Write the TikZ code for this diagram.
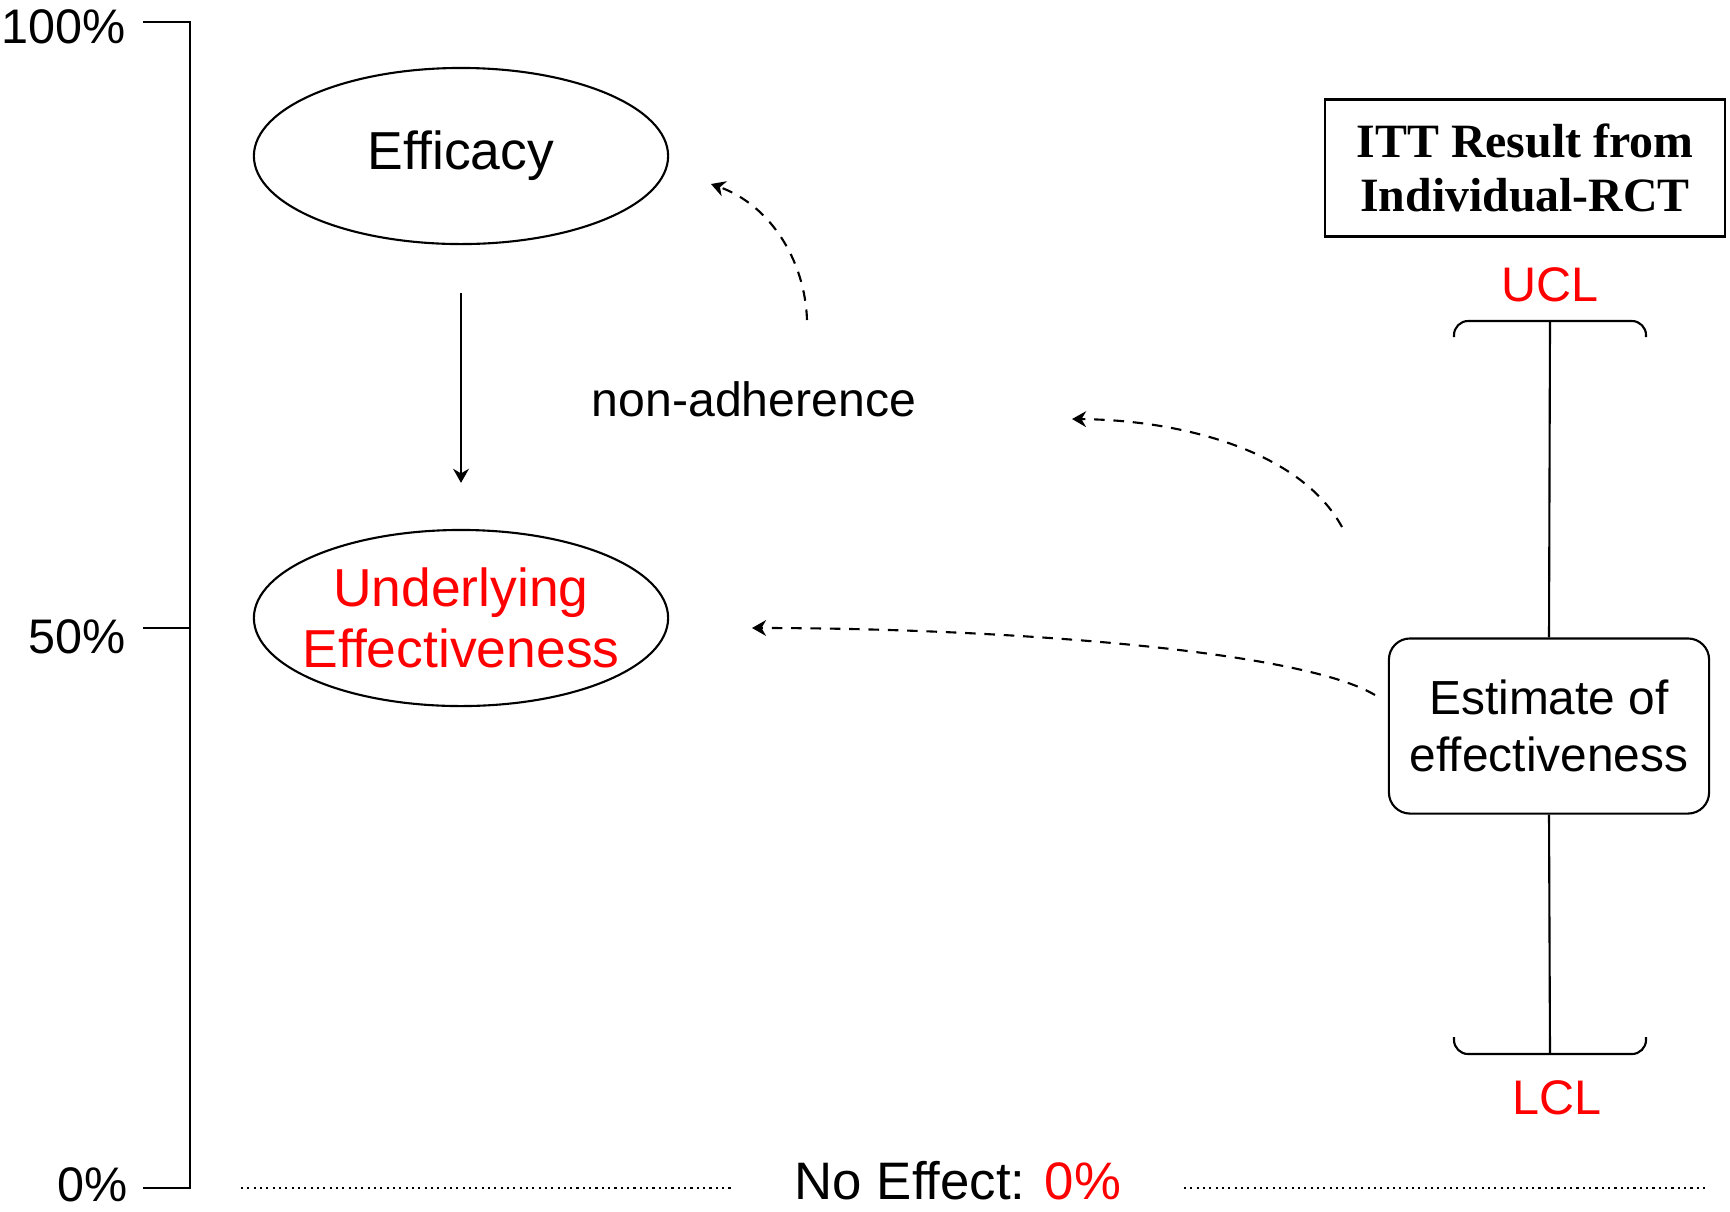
\documentclass[tikz,border=0pt]{standalone}
\usepackage{fontspec}
\setmainfont{Liberation Sans}
\newfontfamily\timesfont{Liberation Serif}
\usetikzlibrary{arrows.meta,positioning,shapes.geometric}

\begin{document}
\begin{tikzpicture}[
  x=0.01cm, y=-0.01cm,
  line width=0.6pt,
  lbl/.style={font=\fontsize{13.8}{15}\selectfont, inner sep=0pt},
  oval/.style={
    draw, ellipse, minimum width=4.14cm, minimum height=1.76cm,
    inner xsep=-4pt, inner ysep=0pt,
    align=center, font=\fontsize{15.2}{17.4}\selectfont
  },
  est/.style={
    draw, rounded corners=6pt, align=center, minimum width=3.2cm,
    minimum height=1.75cm, inner sep=2pt, font=\fontsize{13.6}{16.4}\selectfont
  },
  itt/.style={
    draw, align=center, minimum width=4.0cm, minimum height=1.37cm,
    inner sep=2pt, font=\timesfont\bfseries\fontsize{13.6}{15.6}\selectfont
  },
  arr/.style={-{Stealth[length=4pt, width=4.5pt]}},
  dasharr/.style={arr, dashed, dash pattern=on 3pt off 2.5pt},
  dots/.style={dash pattern=on 0.6pt off 1.2pt},
  red/.style={text=red},
]
\useasboundingbox (0,0) rectangle (1730,1211);

% =========================== axis ========================================
\draw (143,22) -- (190,22) -- (190,1188) -- (143,1188);
\draw (143,628) -- (190,628);
\node[lbl, anchor=east] (p100) at (127,27) {100\%};
\node[lbl, anchor=east] (p50)  at (127,637) {50\%};
\node[lbl, anchor=east] (p0)   at (129,1185) {0\%};

% =========================== left: the two ovals =========================
\node[oval] (eff) at (461,156) {Efficacy};
\node[oval, text=red] (und) at (461,618) {Underlying\\Effectiveness};
\draw[arr] ([yshift=-0.48cm]eff.south) -- ([yshift=0.46cm]und.north);

\node[font=\fontsize{13.7}{16}\selectfont] (nonad) at (754,399) {non-adherence};

% =========================== right: ITT interval =========================
\node[itt] (ittbox) at (1525,168) {ITT Result from\\Individual-RCT};
\node[lbl, red] (ucl) at (1550,285) {UCL};
\node[lbl, red] (lcl) at (1557,1098) {LCL};
\node[est] (estbox) at (1549,726) {Estimate of\\effectiveness};

\coordinate (utop) at (1550,321);
\coordinate (lbot) at (1550,1054);
\draw[rounded corners=4pt] (1454,337) |- (utop) -| (1646,337);
\draw[rounded corners=4pt] (1454,1037) |- (lbot) -| (1646,1037);
\draw (utop) -- (estbox.north);
\draw (estbox.south) -- (lbot);

% =========================== dashed arrows ===============================
\coordinate (s1) at (807,320);
\coordinate (e1) at (711,184);
\coordinate (s2) at (1342,527);
\coordinate (e2) at (1072,419);
\coordinate (s3) at (1375,695);
\coordinate (e3) at (752,628);
\draw[dasharr] (s1) .. controls (805,260) and (770,205) .. (e1);
\draw[dasharr] (s2) .. controls (1300,450) and (1180,420) .. (e2);
\draw[dasharr] (s3) .. controls (1300,650) and (1000,628) .. (e3);

% =========================== no effect line ==============================
\node[font=\fontsize{15}{18}\selectfont] (noeff) at (958,1181)
  {No Effect: \textcolor{red}{0\%}};
\draw[dots] (241,1188) -- (734,1188);
\draw[dots] (1184,1188) -- (1709,1188);

\end{tikzpicture}
\end{document}
